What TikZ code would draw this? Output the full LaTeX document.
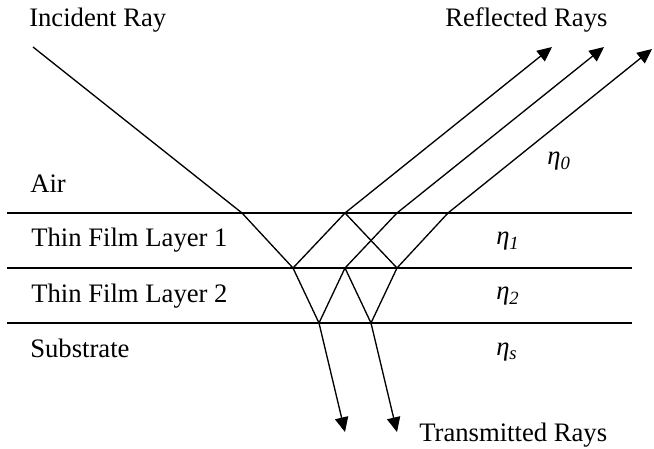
\documentclass[tikz,border=0pt]{standalone}
\usepackage{fontspec}
\setmainfont{Liberation Serif}
\usetikzlibrary{arrows.meta}
\tikzset{
  lbl/.style={inner sep=0pt, anchor=base west, font=\fontsize{20}{24}\selectfont},
  ray/.style={line width=1pt},
  rayout/.style={line width=1pt, -{Triangle[length=11pt,width=10pt]}},
  iface/.style={line width=1.2pt}
}
\newcommand{\idx}[1]{\textit{η}\textsubscript{\textit{#1}}}
\begin{document}
\begin{tikzpicture}[x=0.75pt,y=-0.75pt]
    \useasboundingbox (0,0) rectangle (654,449);

    % Labels
    \node[lbl] (inc) at (29,27) {Incident Ray};
    \node[lbl] (refl) at (445,27) {Reflected Rays};
    \node[lbl] (air) at (30,193) {Air};
    \node[lbl] (film1) at (31,247) {Thin Film Layer 1};
    \node[lbl] (film2) at (31,302) {Thin Film Layer 2};
    \node[lbl] (sub) at (30,358) {Substrate};
    \node[lbl] (trans) at (419,441) {Transmitted Rays};
    \node[lbl] (n0) at (547,165) {\idx{0}};
    \node[lbl] (n1) at (496,245) {\idx{1}};
    \node[lbl] (n2) at (496,300) {\idx{2}};
    \node[lbl] (ns) at (496,355) {\idx{s}};

    % Interfaces
    \coordinate (l1a) at (7,213);   \coordinate (l1b) at (632,213);
    \coordinate (l2a) at (7,268);   \coordinate (l2b) at (632,268);
    \coordinate (l3a) at (7,323);   \coordinate (l3b) at (632,323);
    \draw[iface] (l1a) -- (l1b);
    \draw[iface] (l2a) -- (l2b);
    \draw[iface] (l3a) -- (l3b);

    % Ray points
    \coordinate (src) at (33,47);
    \coordinate (a) at (242,213);
    \coordinate (b) at (293,268);
    \coordinate (c) at (319,323);
    \coordinate (d) at (345,213);
    \coordinate (e) at (397,268);
    \coordinate (f) at (448,213);
    \coordinate (g) at (345,268);
    \coordinate (h) at (397,213);
    \coordinate (i) at (371,323);
    \coordinate (r1) at (552,47);
    \coordinate (r2) at (604,47);
    \coordinate (r3) at (652,49);
    \coordinate (t1) at (345,432);
    \coordinate (t2) at (397,432);

    % Rays
    \draw[ray] (src) -- (a) -- (b) -- (c);
    \draw[ray] (b) -- (d) -- (e) -- (f);
    \draw[ray] (c) -- (g) -- (h);
    \draw[ray] (g) -- (i) -- (e);
    \draw[rayout] (d) -- (r1);
    \draw[rayout] (h) -- (r2);
    \draw[rayout] (f) -- (r3);
    \draw[rayout] (c) -- (t1);
    \draw[rayout] (i) -- (t2);

\end{tikzpicture}
\end{document}
